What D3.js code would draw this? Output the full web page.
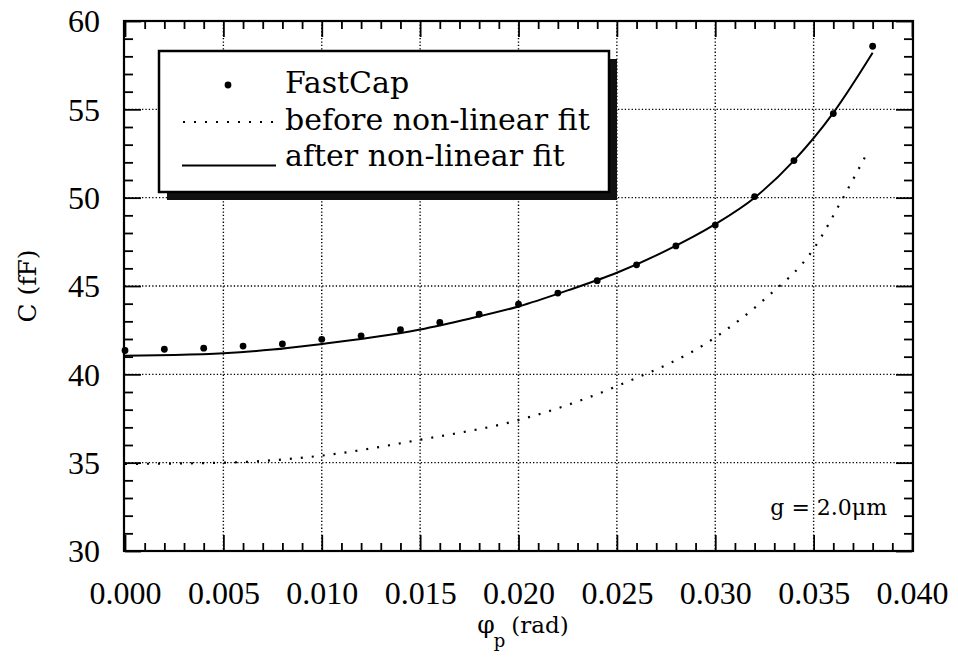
<!DOCTYPE html>
<html>
<head>
<meta charset="utf-8">
<script src="https://cdn.jsdelivr.net/npm/d3@7"></script>
<style>
  body { margin: 0; background: #fff; }
</style>
</head>
<body>
<div id="chart"></div>
<script>
// FastCap simulation points
const fastCapPhi = [0, 0.002, 0.004, 0.006, 0.008, 0.010, 0.012, 0.014, 0.016, 0.018,
  0.020, 0.022, 0.024, 0.026, 0.028, 0.030, 0.032, 0.034, 0.036, 0.038];
const fastCapC = [41.35, 41.42, 41.48, 41.6, 41.72, 41.98, 42.18, 42.53, 42.94, 43.4,
  43.97, 44.6, 45.3, 46.2, 47.27, 48.45, 50.06, 52.1, 54.76, 58.57];

// model curve before the non-linear fit
const beforePhi = [0, 0.005, 0.010, 0.015, 0.020, 0.025, 0.030, 0.0325, 0.035, 0.0365, 0.0378];
const beforeC = [34.93, 35.0, 35.4, 36.3, 37.41, 39.33, 42.09, 44.25, 47.1, 50.0, 52.7];

// model curve after the non-linear fit
const afterPhi = [0, 0.0025, 0.005, 0.0075, 0.010, 0.0125, 0.015, 0.0175, 0.020, 0.0225,
  0.025, 0.0275, 0.030, 0.032, 0.034, 0.036, 0.038];
const afterC = [41.05, 41.1, 41.2, 41.4, 41.72, 42.08, 42.54, 43.15, 43.84, 44.75,
  45.75, 47.0, 48.5, 50.0, 52.1, 54.8, 58.2];

const xMajor = [0, 0.005, 0.010, 0.015, 0.020, 0.025, 0.030, 0.035, 0.040];
const yMajor = [30, 35, 40, 45, 50, 55, 60];
const legendLabels = ['FastCap', 'before non-linear fit', 'after non-linear fit'];
const noteLabel = 'g = 2.0\u03bcm';

const width = 958;
const height = 660;
const serif = '"Liberation Serif", "Times New Roman", serif';
const wide = '"DejaVu Serif", serif';

const svg = d3.select('#chart').append('svg')
  .attr('width', width)
  .attr('height', height);

const x = d3.scaleLinear().domain([0, 0.04]).range([125, 912]);
const y = d3.scaleLinear().domain([30, 60]).range([551, 21]);

const xMinor = d3.range(0, 41).map(i => i / 1000).filter(v => Math.round(v * 1000) % 5 !== 0);
const yMinor = d3.range(30, 61).filter(v => v % 5 !== 0);

// dotted grid
const grid = svg.append('g')
  .attr('stroke', '#000')
  .attr('stroke-width', 1.4)
  .attr('stroke-dasharray', '1.3,2.1');
grid.selectAll('.gx')
  .data(xMajor.slice(1, -1))
  .enter().append('line')
  .attr('x1', d => x(d)).attr('x2', d => x(d))
  .attr('y1', y(60)).attr('y2', y(30));
grid.selectAll('.gy')
  .data(yMajor.slice(1, -1))
  .enter().append('line')
  .attr('x1', x(0)).attr('x2', x(0.04))
  .attr('y1', d => y(d)).attr('y2', d => y(d));

// ticks on all four sides, pointing inward
const drawAxis = (axis, transform) => {
  const g = svg.append('g').attr('transform', transform).call(axis);
  g.select('.domain').remove();
  g.selectAll('.tick line').attr('stroke', '#000').attr('stroke-width', 1.8);
  return g;
};

const bottom = drawAxis(d3.axisBottom(x).tickValues(xMajor).tickSize(-16)
  .tickFormat(d3.format('.3f')), `translate(0,${y(30)})`);
bottom.selectAll('text')
  .attr('y', 53).attr('dy', null)
  .style('font-family', serif).style('font-size', '32px').attr('fill', '#000');
drawAxis(d3.axisBottom(x).tickValues(xMinor).tickSize(-8).tickFormat(''), `translate(0,${y(30)})`);
drawAxis(d3.axisTop(x).tickValues(xMajor).tickSize(-16).tickFormat(''), `translate(0,${y(60)})`);
drawAxis(d3.axisTop(x).tickValues(xMinor).tickSize(-8).tickFormat(''), `translate(0,${y(60)})`);

const left = drawAxis(d3.axisLeft(y).tickValues(yMajor).tickSize(-16), `translate(${x(0)},0)`);
left.selectAll('text')
  .attr('x', -25).attr('dy', '0.34em')
  .style('font-family', serif).style('font-size', '32px').attr('fill', '#000');
drawAxis(d3.axisLeft(y).tickValues(yMinor).tickSize(-8).tickFormat(''), `translate(${x(0)},0)`);
drawAxis(d3.axisRight(y).tickValues(yMajor).tickSize(-16).tickFormat(''), `translate(${x(0.04)},0)`);
drawAxis(d3.axisRight(y).tickValues(yMinor).tickSize(-8).tickFormat(''), `translate(${x(0.04)},0)`);

// frame
svg.append('rect')
  .attr('x', x(0) - 1).attr('y', y(60))
  .attr('width', x(0.04) - x(0) + 2).attr('height', y(30) - y(60))
  .attr('fill', 'none').attr('stroke', '#000').attr('stroke-width', 2.2);

// curves
const line = d3.line()
  .x(d => x(d[0]))
  .y(d => y(d[1]))
  .curve(d3.curveMonotoneX);

svg.append('path')
  .datum(d3.zip(beforePhi, beforeC))
  .attr('d', line)
  .attr('fill', 'none').attr('stroke', '#000')
  .attr('stroke-width', 2.2).attr('stroke-dasharray', '2,9');

svg.append('path')
  .datum(d3.zip(afterPhi, afterC))
  .attr('d', line)
  .attr('fill', 'none').attr('stroke', '#000').attr('stroke-width', 2);

svg.selectAll('.pt')
  .data(d3.zip(fastCapPhi, fastCapC))
  .enter().append('circle')
  .attr('cx', d => x(d[0])).attr('cy', d => y(d[1]))
  .attr('r', 3.4).attr('fill', '#000');

// legend with drop shadow
const legend = svg.append('g');
legend.append('rect')
  .attr('x', 167).attr('y', 59).attr('width', 450).attr('height', 141)
  .attr('fill', '#111');
legend.append('rect')
  .attr('x', 159).attr('y', 51).attr('width', 450).attr('height', 141)
  .attr('fill', '#fff').attr('stroke', '#000').attr('stroke-width', 2.5);

legend.append('circle').attr('cx', 228).attr('cy', 85).attr('r', 3.4).attr('fill', '#000');
legend.append('line')
  .attr('x1', 183).attr('x2', 274).attr('y1', 122).attr('y2', 122)
  .attr('stroke', '#000').attr('stroke-width', 2).attr('stroke-dasharray', '2,9');
legend.append('line')
  .attr('x1', 182).attr('x2', 276).attr('y1', 165.5).attr('y2', 165.5)
  .attr('stroke', '#000').attr('stroke-width', 2);

legend.selectAll('.lt')
  .data(legendLabels)
  .enter().append('text')
  .attr('x', 285)
  .attr('y', (d, i) => 93 + i * 36.6)
  .style('font-family', wide).style('font-size', '30px')
  .attr('fill', '#000')
  .text(d => d);

// annotation
svg.append('text')
  .attr('x', 887).attr('y', 515)
  .attr('text-anchor', 'end')
  .style('font-family', wide).style('font-size', '22px')
  .attr('fill', '#000')
  .text(noteLabel);

// axis titles
const xTitle = svg.append('text')
  .attr('x', 523).attr('y', 633)
  .attr('text-anchor', 'middle')
  .style('font-family', wide).style('font-size', '23px')
  .attr('fill', '#000');
xTitle.append('tspan').style('font-size', '25px').text('\u03c6');
xTitle.append('tspan').attr('dy', 14).attr('dx', -1).style('font-size', '18px').text('p');
xTitle.append('tspan').attr('dy', -14).attr('dx', 6).text('(rad)');

svg.append('text')
  .attr('transform', `translate(36,${(y(30) + y(60)) / 2}) rotate(-90)`)
  .attr('text-anchor', 'middle')
  .style('font-family', wide).style('font-size', '25px')
  .attr('fill', '#000')
  .text('C (fF)');
</script>
</body>
</html>
